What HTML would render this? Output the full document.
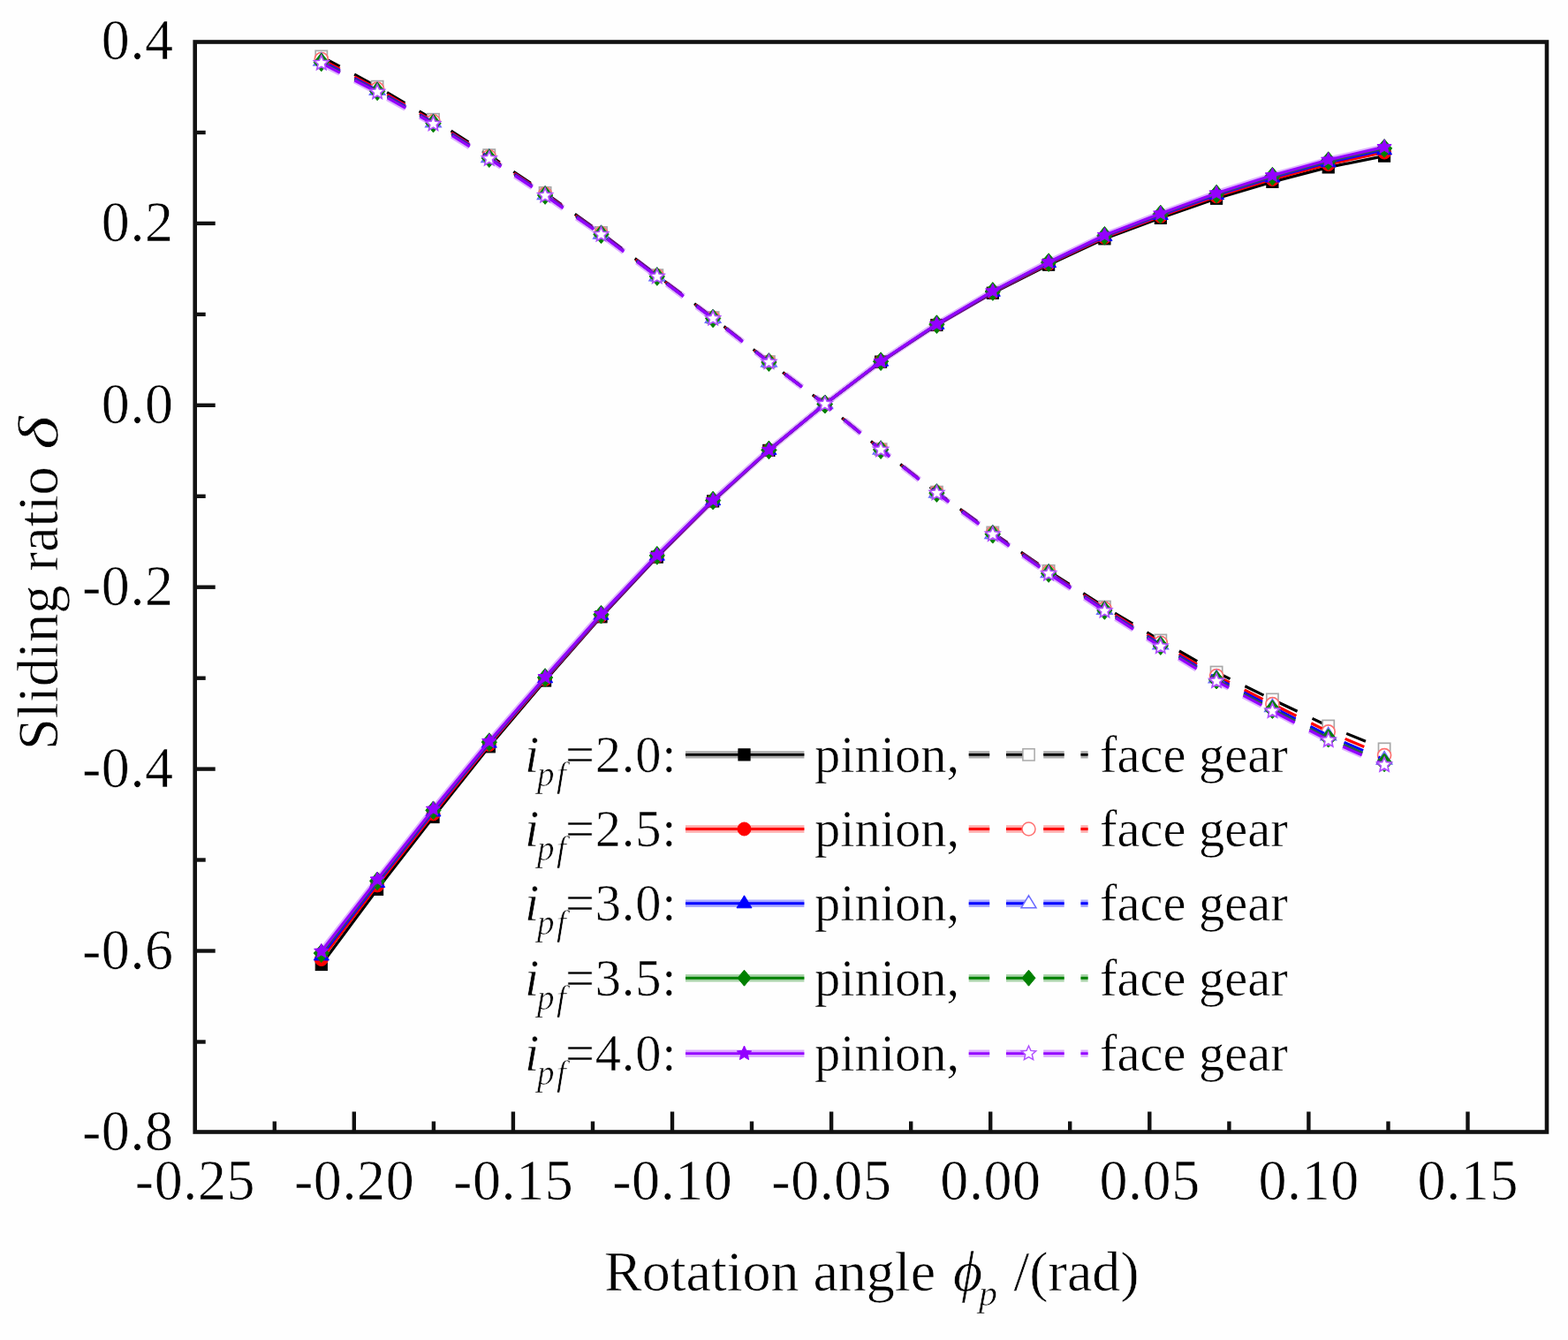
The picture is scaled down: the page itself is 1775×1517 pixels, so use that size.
<!DOCTYPE html>
<html><head><meta charset="utf-8"><title>Sliding ratio</title>
<style>html,body{margin:0;padding:0;background:#fefefe;} svg{display:block;}</style></head>
<body>
<svg width="1775" height="1517" viewBox="0 0 1775 1517">
<g>
<rect width="1775" height="1517" fill="#fefefe"/>
<polyline points="363.8,1092.0 427.1,1006.8 490.5,925.0 553.8,845.3 617.1,770.5 680.5,698.3 743.8,630.6 807.1,567.4 870.4,509.9 933.8,457.5 997.1,409.6 1060.4,368.0 1123.8,331.7 1187.1,299.7 1250.4,270.3 1313.8,246.8 1377.1,224.7 1440.4,205.9 1503.7,189.4 1567.1,176.6" fill="none" stroke="#000000" stroke-width="3.2" stroke-linejoin="round"/>
<polyline points="363.8,64.0 427.1,98.2 490.5,135.3 553.8,175.7 617.1,218.4 680.5,263.5 743.8,311.7 807.1,359.6 870.4,409.6 933.8,457.5 997.1,508.7 1060.4,557.2 1123.8,603.0 1187.1,646.4 1250.4,687.1 1313.8,725.0 1377.1,761.1 1440.4,791.9 1503.7,822.0 1567.1,847.9" fill="none" stroke="#000000" stroke-width="3.2" stroke-dasharray="23.5 18.75" stroke-dashoffset="-0.2"/>
<rect x="357.2" y="1085.4" width="13.2" height="13.2" fill="#000000" stroke="#000000" stroke-width="1"/>
<rect x="420.5" y="1000.2" width="13.2" height="13.2" fill="#000000" stroke="#000000" stroke-width="1"/>
<rect x="483.9" y="918.4" width="13.2" height="13.2" fill="#000000" stroke="#000000" stroke-width="1"/>
<rect x="547.2" y="838.7" width="13.2" height="13.2" fill="#000000" stroke="#000000" stroke-width="1"/>
<rect x="610.5" y="763.9" width="13.2" height="13.2" fill="#000000" stroke="#000000" stroke-width="1"/>
<rect x="673.9" y="691.7" width="13.2" height="13.2" fill="#000000" stroke="#000000" stroke-width="1"/>
<rect x="737.2" y="624.0" width="13.2" height="13.2" fill="#000000" stroke="#000000" stroke-width="1"/>
<rect x="800.5" y="560.8" width="13.2" height="13.2" fill="#000000" stroke="#000000" stroke-width="1"/>
<rect x="863.8" y="503.3" width="13.2" height="13.2" fill="#000000" stroke="#000000" stroke-width="1"/>
<rect x="927.2" y="450.9" width="13.2" height="13.2" fill="#000000" stroke="#000000" stroke-width="1"/>
<rect x="990.5" y="403.0" width="13.2" height="13.2" fill="#000000" stroke="#000000" stroke-width="1"/>
<rect x="1053.8" y="361.4" width="13.2" height="13.2" fill="#000000" stroke="#000000" stroke-width="1"/>
<rect x="1117.2" y="325.1" width="13.2" height="13.2" fill="#000000" stroke="#000000" stroke-width="1"/>
<rect x="1180.5" y="293.1" width="13.2" height="13.2" fill="#000000" stroke="#000000" stroke-width="1"/>
<rect x="1243.8" y="263.7" width="13.2" height="13.2" fill="#000000" stroke="#000000" stroke-width="1"/>
<rect x="1307.2" y="240.2" width="13.2" height="13.2" fill="#000000" stroke="#000000" stroke-width="1"/>
<rect x="1370.5" y="218.1" width="13.2" height="13.2" fill="#000000" stroke="#000000" stroke-width="1"/>
<rect x="1433.8" y="199.3" width="13.2" height="13.2" fill="#000000" stroke="#000000" stroke-width="1"/>
<rect x="1497.1" y="182.8" width="13.2" height="13.2" fill="#000000" stroke="#000000" stroke-width="1"/>
<rect x="1560.5" y="170.0" width="13.2" height="13.2" fill="#000000" stroke="#000000" stroke-width="1"/>
<rect x="357.2" y="57.4" width="13.2" height="13.2" fill="#ffffff" stroke="#a8a8a8" stroke-width="1.7"/>
<rect x="420.5" y="91.6" width="13.2" height="13.2" fill="#ffffff" stroke="#a8a8a8" stroke-width="1.7"/>
<rect x="483.9" y="128.7" width="13.2" height="13.2" fill="#ffffff" stroke="#a8a8a8" stroke-width="1.7"/>
<rect x="547.2" y="169.1" width="13.2" height="13.2" fill="#ffffff" stroke="#a8a8a8" stroke-width="1.7"/>
<rect x="610.5" y="211.8" width="13.2" height="13.2" fill="#ffffff" stroke="#a8a8a8" stroke-width="1.7"/>
<rect x="673.9" y="256.9" width="13.2" height="13.2" fill="#ffffff" stroke="#a8a8a8" stroke-width="1.7"/>
<rect x="737.2" y="305.1" width="13.2" height="13.2" fill="#ffffff" stroke="#a8a8a8" stroke-width="1.7"/>
<rect x="800.5" y="353.0" width="13.2" height="13.2" fill="#ffffff" stroke="#a8a8a8" stroke-width="1.7"/>
<rect x="863.8" y="403.0" width="13.2" height="13.2" fill="#ffffff" stroke="#a8a8a8" stroke-width="1.7"/>
<rect x="927.2" y="450.9" width="13.2" height="13.2" fill="#ffffff" stroke="#a8a8a8" stroke-width="1.7"/>
<rect x="990.5" y="502.1" width="13.2" height="13.2" fill="#ffffff" stroke="#a8a8a8" stroke-width="1.7"/>
<rect x="1053.8" y="550.6" width="13.2" height="13.2" fill="#ffffff" stroke="#a8a8a8" stroke-width="1.7"/>
<rect x="1117.2" y="596.4" width="13.2" height="13.2" fill="#ffffff" stroke="#a8a8a8" stroke-width="1.7"/>
<rect x="1180.5" y="639.8" width="13.2" height="13.2" fill="#ffffff" stroke="#a8a8a8" stroke-width="1.7"/>
<rect x="1243.8" y="680.5" width="13.2" height="13.2" fill="#ffffff" stroke="#a8a8a8" stroke-width="1.7"/>
<rect x="1307.2" y="718.4" width="13.2" height="13.2" fill="#ffffff" stroke="#a8a8a8" stroke-width="1.7"/>
<rect x="1370.5" y="754.5" width="13.2" height="13.2" fill="#ffffff" stroke="#a8a8a8" stroke-width="1.7"/>
<rect x="1433.8" y="785.3" width="13.2" height="13.2" fill="#ffffff" stroke="#a8a8a8" stroke-width="1.7"/>
<rect x="1497.1" y="815.4" width="13.2" height="13.2" fill="#ffffff" stroke="#a8a8a8" stroke-width="1.7"/>
<rect x="1560.5" y="841.3" width="13.2" height="13.2" fill="#ffffff" stroke="#a8a8a8" stroke-width="1.7"/>
<polyline points="363.8,1086.0 427.1,1002.4 490.5,921.4 553.8,842.9 617.1,768.9 680.5,697.1 743.8,629.8 807.1,567.0 870.4,509.7 933.8,457.5 997.1,409.4 1060.4,367.6 1123.8,330.9 1187.1,298.5 1250.4,268.7 1313.8,244.8 1377.1,222.3 1440.4,203.0 1503.7,186.0 1567.1,172.5" fill="none" stroke="#ff0000" stroke-width="3.2" stroke-linejoin="round"/>
<polyline points="363.8,67.0 427.1,100.6 490.5,137.3 553.8,177.3 617.1,219.6 680.5,264.3 743.8,312.3 807.1,360.0 870.4,409.8 933.8,457.5 997.1,508.9 1060.4,557.6 1123.8,603.8 1187.1,647.6 1250.4,688.9 1313.8,727.8 1377.1,765.1 1440.4,797.1 1503.7,828.4 1567.1,855.1" fill="none" stroke="#ff0000" stroke-width="3.2" stroke-dasharray="23.5 18.75" stroke-dashoffset="-0.2"/>
<circle cx="363.8" cy="1086.0" r="7.5" fill="#ff0000" stroke="#ff0000" stroke-width="1"/>
<circle cx="427.1" cy="1002.4" r="7.5" fill="#ff0000" stroke="#ff0000" stroke-width="1"/>
<circle cx="490.5" cy="921.4" r="7.5" fill="#ff0000" stroke="#ff0000" stroke-width="1"/>
<circle cx="553.8" cy="842.9" r="7.5" fill="#ff0000" stroke="#ff0000" stroke-width="1"/>
<circle cx="617.1" cy="768.9" r="7.5" fill="#ff0000" stroke="#ff0000" stroke-width="1"/>
<circle cx="680.5" cy="697.1" r="7.5" fill="#ff0000" stroke="#ff0000" stroke-width="1"/>
<circle cx="743.8" cy="629.8" r="7.5" fill="#ff0000" stroke="#ff0000" stroke-width="1"/>
<circle cx="807.1" cy="567.0" r="7.5" fill="#ff0000" stroke="#ff0000" stroke-width="1"/>
<circle cx="870.4" cy="509.7" r="7.5" fill="#ff0000" stroke="#ff0000" stroke-width="1"/>
<circle cx="933.8" cy="457.5" r="7.5" fill="#ff0000" stroke="#ff0000" stroke-width="1"/>
<circle cx="997.1" cy="409.4" r="7.5" fill="#ff0000" stroke="#ff0000" stroke-width="1"/>
<circle cx="1060.4" cy="367.6" r="7.5" fill="#ff0000" stroke="#ff0000" stroke-width="1"/>
<circle cx="1123.8" cy="330.9" r="7.5" fill="#ff0000" stroke="#ff0000" stroke-width="1"/>
<circle cx="1187.1" cy="298.5" r="7.5" fill="#ff0000" stroke="#ff0000" stroke-width="1"/>
<circle cx="1250.4" cy="268.7" r="7.5" fill="#ff0000" stroke="#ff0000" stroke-width="1"/>
<circle cx="1313.8" cy="244.8" r="7.5" fill="#ff0000" stroke="#ff0000" stroke-width="1"/>
<circle cx="1377.1" cy="222.3" r="7.5" fill="#ff0000" stroke="#ff0000" stroke-width="1"/>
<circle cx="1440.4" cy="203.0" r="7.5" fill="#ff0000" stroke="#ff0000" stroke-width="1"/>
<circle cx="1503.7" cy="186.0" r="7.5" fill="#ff0000" stroke="#ff0000" stroke-width="1"/>
<circle cx="1567.1" cy="172.5" r="7.5" fill="#ff0000" stroke="#ff0000" stroke-width="1"/>
<circle cx="363.8" cy="67.0" r="7.5" fill="#ffffff" stroke="#ff7070" stroke-width="1.7"/>
<circle cx="427.1" cy="100.6" r="7.5" fill="#ffffff" stroke="#ff7070" stroke-width="1.7"/>
<circle cx="490.5" cy="137.3" r="7.5" fill="#ffffff" stroke="#ff7070" stroke-width="1.7"/>
<circle cx="553.8" cy="177.3" r="7.5" fill="#ffffff" stroke="#ff7070" stroke-width="1.7"/>
<circle cx="617.1" cy="219.6" r="7.5" fill="#ffffff" stroke="#ff7070" stroke-width="1.7"/>
<circle cx="680.5" cy="264.3" r="7.5" fill="#ffffff" stroke="#ff7070" stroke-width="1.7"/>
<circle cx="743.8" cy="312.3" r="7.5" fill="#ffffff" stroke="#ff7070" stroke-width="1.7"/>
<circle cx="807.1" cy="360.0" r="7.5" fill="#ffffff" stroke="#ff7070" stroke-width="1.7"/>
<circle cx="870.4" cy="409.8" r="7.5" fill="#ffffff" stroke="#ff7070" stroke-width="1.7"/>
<circle cx="933.8" cy="457.5" r="7.5" fill="#ffffff" stroke="#ff7070" stroke-width="1.7"/>
<circle cx="997.1" cy="508.9" r="7.5" fill="#ffffff" stroke="#ff7070" stroke-width="1.7"/>
<circle cx="1060.4" cy="557.6" r="7.5" fill="#ffffff" stroke="#ff7070" stroke-width="1.7"/>
<circle cx="1123.8" cy="603.8" r="7.5" fill="#ffffff" stroke="#ff7070" stroke-width="1.7"/>
<circle cx="1187.1" cy="647.6" r="7.5" fill="#ffffff" stroke="#ff7070" stroke-width="1.7"/>
<circle cx="1250.4" cy="688.9" r="7.5" fill="#ffffff" stroke="#ff7070" stroke-width="1.7"/>
<circle cx="1313.8" cy="727.8" r="7.5" fill="#ffffff" stroke="#ff7070" stroke-width="1.7"/>
<circle cx="1377.1" cy="765.1" r="7.5" fill="#ffffff" stroke="#ff7070" stroke-width="1.7"/>
<circle cx="1440.4" cy="797.1" r="7.5" fill="#ffffff" stroke="#ff7070" stroke-width="1.7"/>
<circle cx="1503.7" cy="828.4" r="7.5" fill="#ffffff" stroke="#ff7070" stroke-width="1.7"/>
<circle cx="1567.1" cy="855.1" r="7.5" fill="#ffffff" stroke="#ff7070" stroke-width="1.7"/>
<polyline points="363.8,1082.0 427.1,999.5 490.5,919.0 553.8,841.3 617.1,767.8 680.5,696.3 743.8,629.3 807.1,566.7 870.4,509.6 933.8,457.5 997.1,409.3 1060.4,367.3 1123.8,330.4 1187.1,297.7 1250.4,267.6 1313.8,243.5 1377.1,220.7 1440.4,201.0 1503.7,183.8 1567.1,169.8" fill="none" stroke="#0000ff" stroke-width="3.2" stroke-linejoin="round"/>
<polyline points="363.8,69.0 427.1,102.2 490.5,138.6 553.8,178.4 617.1,220.4 680.5,264.8 743.8,312.7 807.1,360.3 870.4,409.9 933.8,457.5 997.1,509.0 1060.4,557.9 1123.8,604.3 1187.1,648.4 1250.4,690.1 1313.8,729.7 1377.1,767.8 1440.4,800.6 1503.7,832.7 1567.1,859.9" fill="none" stroke="#0000ff" stroke-width="3.2" stroke-dasharray="23.5 18.75" stroke-dashoffset="-0.2"/>
<polygon points="363.8,1073.0 372.4,1087.0 355.2,1087.0" fill="#0000ff" stroke="#0000ff" stroke-width="1"/>
<polygon points="427.1,990.5 435.7,1004.4 418.6,1004.4" fill="#0000ff" stroke="#0000ff" stroke-width="1"/>
<polygon points="490.5,910.0 499.0,924.0 481.9,924.0" fill="#0000ff" stroke="#0000ff" stroke-width="1"/>
<polygon points="553.8,832.3 562.3,846.2 545.2,846.2" fill="#0000ff" stroke="#0000ff" stroke-width="1"/>
<polygon points="617.1,758.8 625.7,772.8 608.6,772.8" fill="#0000ff" stroke="#0000ff" stroke-width="1"/>
<polygon points="680.5,687.3 689.0,701.2 671.9,701.2" fill="#0000ff" stroke="#0000ff" stroke-width="1"/>
<polygon points="743.8,620.3 752.3,634.2 735.2,634.2" fill="#0000ff" stroke="#0000ff" stroke-width="1"/>
<polygon points="807.1,557.7 815.7,571.7 798.6,571.7" fill="#0000ff" stroke="#0000ff" stroke-width="1"/>
<polygon points="870.4,500.6 879.0,514.5 861.9,514.5" fill="#0000ff" stroke="#0000ff" stroke-width="1"/>
<polygon points="933.8,448.5 942.3,462.4 925.2,462.4" fill="#0000ff" stroke="#0000ff" stroke-width="1"/>
<polygon points="997.1,400.3 1005.6,414.2 988.5,414.2" fill="#0000ff" stroke="#0000ff" stroke-width="1"/>
<polygon points="1060.4,358.3 1069.0,372.3 1051.9,372.3" fill="#0000ff" stroke="#0000ff" stroke-width="1"/>
<polygon points="1123.8,321.4 1132.3,335.3 1115.2,335.3" fill="#0000ff" stroke="#0000ff" stroke-width="1"/>
<polygon points="1187.1,288.7 1195.6,302.6 1178.5,302.6" fill="#0000ff" stroke="#0000ff" stroke-width="1"/>
<polygon points="1250.4,258.6 1259.0,272.6 1241.9,272.6" fill="#0000ff" stroke="#0000ff" stroke-width="1"/>
<polygon points="1313.8,234.5 1322.3,248.4 1305.2,248.4" fill="#0000ff" stroke="#0000ff" stroke-width="1"/>
<polygon points="1377.1,211.7 1385.6,225.6 1368.5,225.6" fill="#0000ff" stroke="#0000ff" stroke-width="1"/>
<polygon points="1440.4,192.0 1449.0,206.0 1431.9,206.0" fill="#0000ff" stroke="#0000ff" stroke-width="1"/>
<polygon points="1503.7,174.8 1512.3,188.8 1495.2,188.8" fill="#0000ff" stroke="#0000ff" stroke-width="1"/>
<polygon points="1567.1,160.8 1575.6,174.8 1558.5,174.8" fill="#0000ff" stroke="#0000ff" stroke-width="1"/>
<polygon points="363.8,60.0 372.4,74.0 355.2,74.0" fill="#ffffff" stroke="#6a6aff" stroke-width="1.7"/>
<polygon points="427.1,93.2 435.7,107.2 418.6,107.2" fill="#ffffff" stroke="#6a6aff" stroke-width="1.7"/>
<polygon points="490.5,129.6 499.0,143.6 481.9,143.6" fill="#ffffff" stroke="#6a6aff" stroke-width="1.7"/>
<polygon points="553.8,169.4 562.3,183.3 545.2,183.3" fill="#ffffff" stroke="#6a6aff" stroke-width="1.7"/>
<polygon points="617.1,211.4 625.7,225.3 608.6,225.3" fill="#ffffff" stroke="#6a6aff" stroke-width="1.7"/>
<polygon points="680.5,255.8 689.0,269.8 671.9,269.8" fill="#ffffff" stroke="#6a6aff" stroke-width="1.7"/>
<polygon points="743.8,303.7 752.3,317.6 735.2,317.6" fill="#ffffff" stroke="#6a6aff" stroke-width="1.7"/>
<polygon points="807.1,351.3 815.7,365.2 798.6,365.2" fill="#ffffff" stroke="#6a6aff" stroke-width="1.7"/>
<polygon points="870.4,400.9 879.0,414.9 861.9,414.9" fill="#ffffff" stroke="#6a6aff" stroke-width="1.7"/>
<polygon points="933.8,448.5 942.3,462.4 925.2,462.4" fill="#ffffff" stroke="#6a6aff" stroke-width="1.7"/>
<polygon points="997.1,500.0 1005.6,514.0 988.5,514.0" fill="#ffffff" stroke="#6a6aff" stroke-width="1.7"/>
<polygon points="1060.4,548.9 1069.0,562.8 1051.9,562.8" fill="#ffffff" stroke="#6a6aff" stroke-width="1.7"/>
<polygon points="1123.8,595.3 1132.3,609.3 1115.2,609.3" fill="#ffffff" stroke="#6a6aff" stroke-width="1.7"/>
<polygon points="1187.1,639.4 1195.6,653.4 1178.5,653.4" fill="#ffffff" stroke="#6a6aff" stroke-width="1.7"/>
<polygon points="1250.4,681.1 1259.0,695.1 1241.9,695.1" fill="#ffffff" stroke="#6a6aff" stroke-width="1.7"/>
<polygon points="1313.8,720.7 1322.3,734.6 1305.2,734.6" fill="#ffffff" stroke="#6a6aff" stroke-width="1.7"/>
<polygon points="1377.1,758.8 1385.6,772.7 1368.5,772.7" fill="#ffffff" stroke="#6a6aff" stroke-width="1.7"/>
<polygon points="1440.4,791.6 1449.0,805.5 1431.9,805.5" fill="#ffffff" stroke="#6a6aff" stroke-width="1.7"/>
<polygon points="1503.7,823.7 1512.3,837.6 1495.2,837.6" fill="#ffffff" stroke="#6a6aff" stroke-width="1.7"/>
<polygon points="1567.1,850.9 1575.6,864.9 1558.5,864.9" fill="#ffffff" stroke="#6a6aff" stroke-width="1.7"/>
<polyline points="363.8,1079.1 427.1,997.4 490.5,917.3 553.8,840.2 617.1,767.1 680.5,695.7 743.8,628.9 807.1,566.5 870.4,509.5 933.8,457.5 997.1,409.2 1060.4,367.1 1123.8,330.0 1187.1,297.1 1250.4,266.9 1313.8,242.5 1377.1,219.6 1440.4,199.6 1503.7,182.2 1567.1,167.9" fill="none" stroke="#008000" stroke-width="3.2" stroke-linejoin="round"/>
<polyline points="363.8,70.4 427.1,103.3 490.5,139.6 553.8,179.1 617.1,221.0 680.5,265.2 743.8,313.0 807.1,360.5 870.4,410.0 933.8,457.5 997.1,509.1 1060.4,558.1 1123.8,604.7 1187.1,649.0 1250.4,691.0 1313.8,731.0 1377.1,769.7 1440.4,803.0 1503.7,835.7 1567.1,863.3" fill="none" stroke="#008000" stroke-width="3.2" stroke-dasharray="23.5 18.75" stroke-dashoffset="-0.2"/>
<polygon points="363.8,1068.8 372.4,1079.1 363.8,1089.5 355.2,1079.1" fill="#008000" stroke="#008000" stroke-width="1"/>
<polygon points="427.1,987.0 435.8,997.4 427.1,1007.7 418.5,997.4" fill="#008000" stroke="#008000" stroke-width="1"/>
<polygon points="490.5,906.9 499.1,917.3 490.5,927.6 481.8,917.3" fill="#008000" stroke="#008000" stroke-width="1"/>
<polygon points="553.8,829.8 562.4,840.2 553.8,850.5 545.2,840.2" fill="#008000" stroke="#008000" stroke-width="1"/>
<polygon points="617.1,756.7 625.7,767.1 617.1,777.4 608.5,767.1" fill="#008000" stroke="#008000" stroke-width="1"/>
<polygon points="680.5,685.4 689.1,695.7 680.5,706.1 671.8,695.7" fill="#008000" stroke="#008000" stroke-width="1"/>
<polygon points="743.8,618.5 752.4,628.9 743.8,639.2 735.2,628.9" fill="#008000" stroke="#008000" stroke-width="1"/>
<polygon points="807.1,556.2 815.7,566.5 807.1,576.9 798.5,566.5" fill="#008000" stroke="#008000" stroke-width="1"/>
<polygon points="870.4,499.1 879.1,509.5 870.4,519.8 861.8,509.5" fill="#008000" stroke="#008000" stroke-width="1"/>
<polygon points="933.8,447.1 942.4,457.5 933.8,467.9 925.1,457.5" fill="#008000" stroke="#008000" stroke-width="1"/>
<polygon points="997.1,398.8 1005.7,409.2 997.1,419.5 988.5,409.2" fill="#008000" stroke="#008000" stroke-width="1"/>
<polygon points="1060.4,356.8 1069.1,367.1 1060.4,377.5 1051.8,367.1" fill="#008000" stroke="#008000" stroke-width="1"/>
<polygon points="1123.8,319.6 1132.4,330.0 1123.8,340.3 1115.1,330.0" fill="#008000" stroke="#008000" stroke-width="1"/>
<polygon points="1187.1,286.8 1195.7,297.1 1187.1,307.5 1178.5,297.1" fill="#008000" stroke="#008000" stroke-width="1"/>
<polygon points="1250.4,256.5 1259.0,266.9 1250.4,277.2 1241.8,266.9" fill="#008000" stroke="#008000" stroke-width="1"/>
<polygon points="1313.8,232.2 1322.4,242.5 1313.8,252.9 1305.1,242.5" fill="#008000" stroke="#008000" stroke-width="1"/>
<polygon points="1377.1,209.2 1385.7,219.6 1377.1,229.9 1368.5,219.6" fill="#008000" stroke="#008000" stroke-width="1"/>
<polygon points="1440.4,189.3 1449.0,199.6 1440.4,210.0 1431.8,199.6" fill="#008000" stroke="#008000" stroke-width="1"/>
<polygon points="1503.7,171.8 1512.4,182.2 1503.7,192.5 1495.1,182.2" fill="#008000" stroke="#008000" stroke-width="1"/>
<polygon points="1567.1,157.5 1575.7,167.9 1567.1,178.2 1558.4,167.9" fill="#008000" stroke="#008000" stroke-width="1"/>
<polygon points="363.8,60.1 372.4,70.4 363.8,80.8 355.2,70.4" fill="#008000" stroke="#008000" stroke-width="1"/>
<polygon points="427.1,93.0 435.8,103.3 427.1,113.7 418.5,103.3" fill="#008000" stroke="#008000" stroke-width="1"/>
<polygon points="490.5,129.2 499.1,139.6 490.5,149.9 481.8,139.6" fill="#008000" stroke="#008000" stroke-width="1"/>
<polygon points="553.8,168.8 562.4,179.1 553.8,189.5 545.2,179.1" fill="#008000" stroke="#008000" stroke-width="1"/>
<polygon points="617.1,210.6 625.7,221.0 617.1,231.3 608.5,221.0" fill="#008000" stroke="#008000" stroke-width="1"/>
<polygon points="680.5,254.9 689.1,265.2 680.5,275.6 671.8,265.2" fill="#008000" stroke="#008000" stroke-width="1"/>
<polygon points="743.8,302.6 752.4,313.0 743.8,323.3 735.2,313.0" fill="#008000" stroke="#008000" stroke-width="1"/>
<polygon points="807.1,350.1 815.7,360.5 807.1,370.8 798.5,360.5" fill="#008000" stroke="#008000" stroke-width="1"/>
<polygon points="870.4,399.7 879.1,410.0 870.4,420.4 861.8,410.0" fill="#008000" stroke="#008000" stroke-width="1"/>
<polygon points="933.8,447.1 942.4,457.5 933.8,467.9 925.1,457.5" fill="#008000" stroke="#008000" stroke-width="1"/>
<polygon points="997.1,498.8 1005.7,509.1 997.1,519.5 988.5,509.1" fill="#008000" stroke="#008000" stroke-width="1"/>
<polygon points="1060.4,547.7 1069.1,558.1 1060.4,568.4 1051.8,558.1" fill="#008000" stroke="#008000" stroke-width="1"/>
<polygon points="1123.8,594.4 1132.4,604.7 1123.8,615.1 1115.1,604.7" fill="#008000" stroke="#008000" stroke-width="1"/>
<polygon points="1187.1,638.6 1195.7,649.0 1187.1,659.3 1178.5,649.0" fill="#008000" stroke="#008000" stroke-width="1"/>
<polygon points="1250.4,680.6 1259.0,691.0 1250.4,701.3 1241.8,691.0" fill="#008000" stroke="#008000" stroke-width="1"/>
<polygon points="1313.8,720.6 1322.4,731.0 1313.8,741.4 1305.1,731.0" fill="#008000" stroke="#008000" stroke-width="1"/>
<polygon points="1377.1,759.3 1385.7,769.7 1377.1,780.0 1368.5,769.7" fill="#008000" stroke="#008000" stroke-width="1"/>
<polygon points="1440.4,792.7 1449.0,803.0 1440.4,813.4 1431.8,803.0" fill="#008000" stroke="#008000" stroke-width="1"/>
<polygon points="1503.7,825.4 1512.4,835.7 1503.7,846.1 1495.1,835.7" fill="#008000" stroke="#008000" stroke-width="1"/>
<polygon points="1567.1,853.0 1575.7,863.3 1567.1,873.7 1558.4,863.3" fill="#008000" stroke="#008000" stroke-width="1"/>
<polyline points="363.8,1077.0 427.1,995.8 490.5,916.0 553.8,839.3 617.1,766.5 680.5,695.3 743.8,628.6 807.1,566.4 870.4,509.4 933.8,457.5 997.1,409.1 1060.4,367.0 1123.8,329.7 1187.1,296.7 1250.4,266.3 1313.8,241.8 1377.1,218.7 1440.4,198.6 1503.7,181.0 1567.1,166.4" fill="none" stroke="#9400ff" stroke-opacity="0.3" stroke-width="7" stroke-linejoin="round"/>
<polyline points="363.8,1077.0 427.1,995.8 490.5,916.0 553.8,839.3 617.1,766.5 680.5,695.3 743.8,628.6 807.1,566.4 870.4,509.4 933.8,457.5 997.1,409.1 1060.4,367.0 1123.8,329.7 1187.1,296.7 1250.4,266.3 1313.8,241.8 1377.1,218.7 1440.4,198.6 1503.7,181.0 1567.1,166.4" fill="none" stroke="#9400ff" stroke-width="3.2" stroke-linejoin="round"/>
<polyline points="363.8,71.5 427.1,104.2 490.5,140.3 553.8,179.7 617.1,221.4 680.5,265.5 743.8,313.2 807.1,360.6 870.4,410.1 933.8,457.5 997.1,509.2 1060.4,558.2 1123.8,605.0 1187.1,649.4 1250.4,691.6 1313.8,732.0 1377.1,771.1 1440.4,804.9 1503.7,838.0 1567.1,865.9" fill="none" stroke="#9400ff" stroke-opacity="0.3" stroke-width="7" stroke-dasharray="23.5 18.75" stroke-dashoffset="-0.2"/>
<polyline points="363.8,71.5 427.1,104.2 490.5,140.3 553.8,179.7 617.1,221.4 680.5,265.5 743.8,313.2 807.1,360.6 870.4,410.1 933.8,457.5 997.1,509.2 1060.4,558.2 1123.8,605.0 1187.1,649.4 1250.4,691.6 1313.8,732.0 1377.1,771.1 1440.4,804.9 1503.7,838.0 1567.1,865.9" fill="none" stroke="#9400ff" stroke-width="3.2" stroke-dasharray="23.5 18.75" stroke-dashoffset="-0.2"/>
<polygon points="363.8,1068.4 366.2,1073.8 372.0,1074.3 367.6,1078.2 368.9,1084.0 363.8,1081.0 358.7,1084.0 360.0,1078.2 355.6,1074.3 361.4,1073.8" fill="#9400ff" stroke="#9400ff" stroke-width="1"/>
<polygon points="427.1,987.2 429.5,992.6 435.3,993.1 430.9,997.0 432.2,1002.8 427.1,999.8 422.1,1002.8 423.3,997.0 419.0,993.1 424.8,992.6" fill="#9400ff" stroke="#9400ff" stroke-width="1"/>
<polygon points="490.5,907.4 492.8,912.8 498.6,913.3 494.3,917.2 495.5,923.0 490.5,920.0 485.4,923.0 486.7,917.2 482.3,913.3 488.1,912.8" fill="#9400ff" stroke="#9400ff" stroke-width="1"/>
<polygon points="553.8,830.7 556.1,836.1 562.0,836.6 557.6,840.5 558.8,846.3 553.8,843.3 548.7,846.3 550.0,840.5 545.6,836.6 551.4,836.1" fill="#9400ff" stroke="#9400ff" stroke-width="1"/>
<polygon points="617.1,757.9 619.5,763.3 625.3,763.8 620.9,767.7 622.2,773.5 617.1,770.5 612.1,773.5 613.3,767.7 608.9,763.8 614.8,763.3" fill="#9400ff" stroke="#9400ff" stroke-width="1"/>
<polygon points="680.5,686.7 682.8,692.1 688.6,692.6 684.3,696.5 685.5,702.3 680.5,699.3 675.4,702.3 676.6,696.5 672.3,692.6 678.1,692.1" fill="#9400ff" stroke="#9400ff" stroke-width="1"/>
<polygon points="743.8,620.0 746.1,625.4 752.0,625.9 747.6,629.8 748.8,635.6 743.8,632.6 738.7,635.6 740.0,629.8 735.6,625.9 741.4,625.4" fill="#9400ff" stroke="#9400ff" stroke-width="1"/>
<polygon points="807.1,557.8 809.5,563.2 815.3,563.7 810.9,567.6 812.2,573.4 807.1,570.4 802.1,573.4 803.3,567.6 798.9,563.7 804.8,563.2" fill="#9400ff" stroke="#9400ff" stroke-width="1"/>
<polygon points="870.4,500.8 872.8,506.2 878.6,506.7 874.2,510.6 875.5,516.4 870.4,513.4 865.4,516.4 866.6,510.6 862.3,506.7 868.1,506.2" fill="#9400ff" stroke="#9400ff" stroke-width="1"/>
<polygon points="933.8,448.9 936.1,454.3 941.9,454.8 937.6,458.7 938.8,464.5 933.8,461.5 928.7,464.5 930.0,458.7 925.6,454.8 931.4,454.3" fill="#9400ff" stroke="#9400ff" stroke-width="1"/>
<polygon points="997.1,400.5 999.5,405.9 1005.3,406.4 1000.9,410.3 1002.2,416.1 997.1,413.1 992.0,416.1 993.3,410.3 988.9,406.4 994.7,405.9" fill="#9400ff" stroke="#9400ff" stroke-width="1"/>
<polygon points="1060.4,358.4 1062.8,363.8 1068.6,364.3 1064.2,368.2 1065.5,374.0 1060.4,371.0 1055.4,374.0 1056.6,368.2 1052.3,364.3 1058.1,363.8" fill="#9400ff" stroke="#9400ff" stroke-width="1"/>
<polygon points="1123.8,321.1 1126.1,326.5 1131.9,327.0 1127.6,330.9 1128.8,336.7 1123.8,333.7 1118.7,336.7 1120.0,330.9 1115.6,327.0 1121.4,326.5" fill="#9400ff" stroke="#9400ff" stroke-width="1"/>
<polygon points="1187.1,288.1 1189.4,293.5 1195.3,294.0 1190.9,297.9 1192.1,303.7 1187.1,300.7 1182.0,303.7 1183.3,297.9 1178.9,294.0 1184.7,293.5" fill="#9400ff" stroke="#9400ff" stroke-width="1"/>
<polygon points="1250.4,257.7 1252.8,263.1 1258.6,263.6 1254.2,267.5 1255.5,273.3 1250.4,270.3 1245.4,273.3 1246.6,267.5 1242.2,263.6 1248.1,263.1" fill="#9400ff" stroke="#9400ff" stroke-width="1"/>
<polygon points="1313.8,233.2 1316.1,238.6 1321.9,239.1 1317.6,243.0 1318.8,248.8 1313.8,245.8 1308.7,248.8 1309.9,243.0 1305.6,239.1 1311.4,238.6" fill="#9400ff" stroke="#9400ff" stroke-width="1"/>
<polygon points="1377.1,210.1 1379.4,215.5 1385.3,216.0 1380.9,219.9 1382.1,225.7 1377.1,222.7 1372.0,225.7 1373.3,219.9 1368.9,216.0 1374.7,215.5" fill="#9400ff" stroke="#9400ff" stroke-width="1"/>
<polygon points="1440.4,190.0 1442.8,195.4 1448.6,195.9 1444.2,199.8 1445.5,205.6 1440.4,202.6 1435.4,205.6 1436.6,199.8 1432.2,195.9 1438.1,195.4" fill="#9400ff" stroke="#9400ff" stroke-width="1"/>
<polygon points="1503.7,172.4 1506.1,177.8 1511.9,178.3 1507.5,182.2 1508.8,188.0 1503.7,185.0 1498.7,188.0 1499.9,182.2 1495.6,178.3 1501.4,177.8" fill="#9400ff" stroke="#9400ff" stroke-width="1"/>
<polygon points="1567.1,157.8 1569.4,163.2 1575.2,163.7 1570.9,167.6 1572.1,173.4 1567.1,170.4 1562.0,173.4 1563.3,167.6 1558.9,163.7 1564.7,163.2" fill="#9400ff" stroke="#9400ff" stroke-width="1"/>
<polygon points="363.8,62.9 366.2,68.3 372.0,68.8 367.6,72.7 368.9,78.5 363.8,75.5 358.7,78.5 360.0,72.7 355.6,68.8 361.4,68.3" fill="#ffffff" stroke="#b050ff" stroke-width="1.7"/>
<polygon points="427.1,95.6 429.5,101.0 435.3,101.5 430.9,105.4 432.2,111.2 427.1,108.2 422.1,111.2 423.3,105.4 419.0,101.5 424.8,101.0" fill="#ffffff" stroke="#b050ff" stroke-width="1.7"/>
<polygon points="490.5,131.7 492.8,137.1 498.6,137.6 494.3,141.5 495.5,147.3 490.5,144.3 485.4,147.3 486.7,141.5 482.3,137.6 488.1,137.1" fill="#ffffff" stroke="#b050ff" stroke-width="1.7"/>
<polygon points="553.8,171.1 556.1,176.5 562.0,177.0 557.6,180.9 558.8,186.7 553.8,183.7 548.7,186.7 550.0,180.9 545.6,177.0 551.4,176.5" fill="#ffffff" stroke="#b050ff" stroke-width="1.7"/>
<polygon points="617.1,212.8 619.5,218.2 625.3,218.7 620.9,222.6 622.2,228.4 617.1,225.4 612.1,228.4 613.3,222.6 608.9,218.7 614.8,218.2" fill="#ffffff" stroke="#b050ff" stroke-width="1.7"/>
<polygon points="680.5,256.9 682.8,262.3 688.6,262.8 684.3,266.7 685.5,272.5 680.5,269.5 675.4,272.5 676.6,266.7 672.3,262.8 678.1,262.3" fill="#ffffff" stroke="#b050ff" stroke-width="1.7"/>
<polygon points="743.8,304.6 746.1,310.0 752.0,310.5 747.6,314.4 748.8,320.2 743.8,317.2 738.7,320.2 740.0,314.4 735.6,310.5 741.4,310.0" fill="#ffffff" stroke="#b050ff" stroke-width="1.7"/>
<polygon points="807.1,352.0 809.5,357.4 815.3,357.9 810.9,361.8 812.2,367.6 807.1,364.6 802.1,367.6 803.3,361.8 798.9,357.9 804.8,357.4" fill="#ffffff" stroke="#b050ff" stroke-width="1.7"/>
<polygon points="870.4,401.5 872.8,406.9 878.6,407.4 874.2,411.3 875.5,417.1 870.4,414.1 865.4,417.1 866.6,411.3 862.3,407.4 868.1,406.9" fill="#ffffff" stroke="#b050ff" stroke-width="1.7"/>
<polygon points="933.8,448.9 936.1,454.3 941.9,454.8 937.6,458.7 938.8,464.5 933.8,461.5 928.7,464.5 930.0,458.7 925.6,454.8 931.4,454.3" fill="#ffffff" stroke="#b050ff" stroke-width="1.7"/>
<polygon points="997.1,500.6 999.5,506.0 1005.3,506.5 1000.9,510.4 1002.2,516.2 997.1,513.2 992.0,516.2 993.3,510.4 988.9,506.5 994.7,506.0" fill="#ffffff" stroke="#b050ff" stroke-width="1.7"/>
<polygon points="1060.4,549.6 1062.8,555.0 1068.6,555.5 1064.2,559.4 1065.5,565.2 1060.4,562.2 1055.4,565.2 1056.6,559.4 1052.3,555.5 1058.1,555.0" fill="#ffffff" stroke="#b050ff" stroke-width="1.7"/>
<polygon points="1123.8,596.4 1126.1,601.8 1131.9,602.3 1127.6,606.2 1128.8,612.0 1123.8,609.0 1118.7,612.0 1120.0,606.2 1115.6,602.3 1121.4,601.8" fill="#ffffff" stroke="#b050ff" stroke-width="1.7"/>
<polygon points="1187.1,640.8 1189.4,646.2 1195.3,646.7 1190.9,650.6 1192.1,656.4 1187.1,653.4 1182.0,656.4 1183.3,650.6 1178.9,646.7 1184.7,646.2" fill="#ffffff" stroke="#b050ff" stroke-width="1.7"/>
<polygon points="1250.4,683.0 1252.8,688.4 1258.6,688.9 1254.2,692.8 1255.5,698.6 1250.4,695.6 1245.4,698.6 1246.6,692.8 1242.2,688.9 1248.1,688.4" fill="#ffffff" stroke="#b050ff" stroke-width="1.7"/>
<polygon points="1313.8,723.4 1316.1,728.8 1321.9,729.3 1317.6,733.2 1318.8,739.0 1313.8,736.0 1308.7,739.0 1309.9,733.2 1305.6,729.3 1311.4,728.8" fill="#ffffff" stroke="#b050ff" stroke-width="1.7"/>
<polygon points="1377.1,762.5 1379.4,767.9 1385.3,768.4 1380.9,772.3 1382.1,778.1 1377.1,775.1 1372.0,778.1 1373.3,772.3 1368.9,768.4 1374.7,767.9" fill="#ffffff" stroke="#b050ff" stroke-width="1.7"/>
<polygon points="1440.4,796.3 1442.8,801.7 1448.6,802.2 1444.2,806.1 1445.5,811.9 1440.4,808.9 1435.4,811.9 1436.6,806.1 1432.2,802.2 1438.1,801.7" fill="#ffffff" stroke="#b050ff" stroke-width="1.7"/>
<polygon points="1503.7,829.4 1506.1,834.8 1511.9,835.3 1507.5,839.2 1508.8,845.0 1503.7,842.0 1498.7,845.0 1499.9,839.2 1495.6,835.3 1501.4,834.8" fill="#ffffff" stroke="#b050ff" stroke-width="1.7"/>
<polygon points="1567.1,857.3 1569.4,862.7 1575.2,863.2 1570.9,867.1 1572.1,872.9 1567.1,869.9 1562.0,872.9 1563.3,867.1 1558.9,863.2 1564.7,862.7" fill="#ffffff" stroke="#b050ff" stroke-width="1.7"/>
<rect x="220.7" y="47.5" width="1530.3" height="1234.0" fill="none" stroke="#111" stroke-width="4.6"/>
<line x1="400.8" y1="1281.5" x2="400.8" y2="1258.5" stroke="#111" stroke-width="4.4"/>
<line x1="580.9" y1="1281.5" x2="580.9" y2="1258.5" stroke="#111" stroke-width="4.4"/>
<line x1="761.0" y1="1281.5" x2="761.0" y2="1258.5" stroke="#111" stroke-width="4.4"/>
<line x1="941.1" y1="1281.5" x2="941.1" y2="1258.5" stroke="#111" stroke-width="4.4"/>
<line x1="1121.2" y1="1281.5" x2="1121.2" y2="1258.5" stroke="#111" stroke-width="4.4"/>
<line x1="1301.3" y1="1281.5" x2="1301.3" y2="1258.5" stroke="#111" stroke-width="4.4"/>
<line x1="1481.4" y1="1281.5" x2="1481.4" y2="1258.5" stroke="#111" stroke-width="4.4"/>
<line x1="1661.5" y1="1281.5" x2="1661.5" y2="1258.5" stroke="#111" stroke-width="4.4"/>
<line x1="310.8" y1="1281.5" x2="310.8" y2="1269.5" stroke="#111" stroke-width="4.4"/>
<line x1="490.9" y1="1281.5" x2="490.9" y2="1269.5" stroke="#111" stroke-width="4.4"/>
<line x1="671.0" y1="1281.5" x2="671.0" y2="1269.5" stroke="#111" stroke-width="4.4"/>
<line x1="851.0" y1="1281.5" x2="851.0" y2="1269.5" stroke="#111" stroke-width="4.4"/>
<line x1="1031.2" y1="1281.5" x2="1031.2" y2="1269.5" stroke="#111" stroke-width="4.4"/>
<line x1="1211.2" y1="1281.5" x2="1211.2" y2="1269.5" stroke="#111" stroke-width="4.4"/>
<line x1="1391.4" y1="1281.5" x2="1391.4" y2="1269.5" stroke="#111" stroke-width="4.4"/>
<line x1="1571.5" y1="1281.5" x2="1571.5" y2="1269.5" stroke="#111" stroke-width="4.4"/>
<line x1="220.7" y1="252.9" x2="243.7" y2="252.9" stroke="#111" stroke-width="4.4"/>
<line x1="220.7" y1="458.8" x2="243.7" y2="458.8" stroke="#111" stroke-width="4.4"/>
<line x1="220.7" y1="664.7" x2="243.7" y2="664.7" stroke="#111" stroke-width="4.4"/>
<line x1="220.7" y1="870.6" x2="243.7" y2="870.6" stroke="#111" stroke-width="4.4"/>
<line x1="220.7" y1="1076.5" x2="243.7" y2="1076.5" stroke="#111" stroke-width="4.4"/>
<line x1="220.7" y1="150.0" x2="232.7" y2="150.0" stroke="#111" stroke-width="4.4"/>
<line x1="220.7" y1="355.9" x2="232.7" y2="355.9" stroke="#111" stroke-width="4.4"/>
<line x1="220.7" y1="561.8" x2="232.7" y2="561.8" stroke="#111" stroke-width="4.4"/>
<line x1="220.7" y1="767.7" x2="232.7" y2="767.7" stroke="#111" stroke-width="4.4"/>
<line x1="220.7" y1="973.5" x2="232.7" y2="973.5" stroke="#111" stroke-width="4.4"/>
<line x1="220.7" y1="1179.5" x2="232.7" y2="1179.5" stroke="#111" stroke-width="4.4"/>
<text transform="translate(221.0,1357.8) scale(1,1.03)" font-family="Liberation Serif, Times New Roman, serif" stroke="#fefefe" stroke-width="0.6" font-size="64" letter-spacing="0.6" text-anchor="middle">-0.25</text>
<text transform="translate(401.1,1357.8) scale(1,1.03)" font-family="Liberation Serif, Times New Roman, serif" stroke="#fefefe" stroke-width="0.6" font-size="64" letter-spacing="0.6" text-anchor="middle">-0.20</text>
<text transform="translate(581.2,1357.8) scale(1,1.03)" font-family="Liberation Serif, Times New Roman, serif" stroke="#fefefe" stroke-width="0.6" font-size="64" letter-spacing="0.6" text-anchor="middle">-0.15</text>
<text transform="translate(761.3,1357.8) scale(1,1.03)" font-family="Liberation Serif, Times New Roman, serif" stroke="#fefefe" stroke-width="0.6" font-size="64" letter-spacing="0.6" text-anchor="middle">-0.10</text>
<text transform="translate(941.4,1357.8) scale(1,1.03)" font-family="Liberation Serif, Times New Roman, serif" stroke="#fefefe" stroke-width="0.6" font-size="64" letter-spacing="0.6" text-anchor="middle">-0.05</text>
<text transform="translate(1121.5,1357.8) scale(1,1.03)" font-family="Liberation Serif, Times New Roman, serif" stroke="#fefefe" stroke-width="0.6" font-size="64" letter-spacing="0.6" text-anchor="middle">0.00</text>
<text transform="translate(1301.6,1357.8) scale(1,1.03)" font-family="Liberation Serif, Times New Roman, serif" stroke="#fefefe" stroke-width="0.6" font-size="64" letter-spacing="0.6" text-anchor="middle">0.05</text>
<text transform="translate(1481.7,1357.8) scale(1,1.03)" font-family="Liberation Serif, Times New Roman, serif" stroke="#fefefe" stroke-width="0.6" font-size="64" letter-spacing="0.6" text-anchor="middle">0.10</text>
<text transform="translate(1661.8,1357.8) scale(1,1.03)" font-family="Liberation Serif, Times New Roman, serif" stroke="#fefefe" stroke-width="0.6" font-size="64" letter-spacing="0.6" text-anchor="middle">0.15</text>
<text transform="translate(196.6,67.0) scale(1,1.03)" font-family="Liberation Serif, Times New Roman, serif" stroke="#fefefe" stroke-width="0.6" font-size="64" letter-spacing="0.6" text-anchor="end">0.4</text>
<text transform="translate(196.6,272.9) scale(1,1.03)" font-family="Liberation Serif, Times New Roman, serif" stroke="#fefefe" stroke-width="0.6" font-size="64" letter-spacing="0.6" text-anchor="end">0.2</text>
<text transform="translate(196.6,478.8) scale(1,1.03)" font-family="Liberation Serif, Times New Roman, serif" stroke="#fefefe" stroke-width="0.6" font-size="64" letter-spacing="0.6" text-anchor="end">0.0</text>
<text transform="translate(196.6,684.7) scale(1,1.03)" font-family="Liberation Serif, Times New Roman, serif" stroke="#fefefe" stroke-width="0.6" font-size="64" letter-spacing="0.6" text-anchor="end">-0.2</text>
<text transform="translate(196.6,890.6) scale(1,1.03)" font-family="Liberation Serif, Times New Roman, serif" stroke="#fefefe" stroke-width="0.6" font-size="64" letter-spacing="0.6" text-anchor="end">-0.4</text>
<text transform="translate(196.6,1096.5) scale(1,1.03)" font-family="Liberation Serif, Times New Roman, serif" stroke="#fefefe" stroke-width="0.6" font-size="64" letter-spacing="0.6" text-anchor="end">-0.6</text>
<text transform="translate(196.6,1302.4) scale(1,1.03)" font-family="Liberation Serif, Times New Roman, serif" stroke="#fefefe" stroke-width="0.6" font-size="64" letter-spacing="0.6" text-anchor="end">-0.8</text>
<text x="684" y="1461" font-family="Liberation Serif, Times New Roman, serif" stroke="#fefefe" stroke-width="0.6" font-size="64">Rotation angle</text>
<text x="1079" y="1461" font-family="Liberation Serif, Times New Roman, serif" stroke="#fefefe" stroke-width="0.6" font-size="64" font-style="italic">ϕ</text>
<text x="1108" y="1478" font-family="Liberation Serif, Times New Roman, serif" stroke="#fefefe" stroke-width="0.6" font-size="42" font-style="italic">p</text>
<text x="1147.5" y="1461" font-family="Liberation Serif, Times New Roman, serif" stroke="#fefefe" stroke-width="0.6" font-size="64">/(rad)</text>
<text transform="translate(65.2,849) rotate(-90)" font-family="Liberation Serif, Times New Roman, serif" stroke="#fefefe" stroke-width="0.6" font-size="64.5">Sliding ratio</text>
<text transform="translate(65.2,849) rotate(-90) translate(340,0) scale(1.27,1)" font-family="Liberation Serif, Times New Roman, serif" stroke="#fefefe" stroke-width="0.6" font-size="64" font-style="italic">δ</text>
<text x="594" y="874.0" font-family="Liberation Serif, Times New Roman, serif" stroke="#fefefe" stroke-width="0.6" font-size="58.5" font-style="italic">i</text>
<text x="608" y="889.7" font-family="Liberation Serif, Times New Roman, serif" stroke="#fefefe" stroke-width="0.6" font-size="39" font-style="italic" letter-spacing="2.5">pf</text>
<text x="640" y="874.0" font-family="Liberation Serif, Times New Roman, serif" stroke="#fefefe" stroke-width="0.6" font-size="58.5" letter-spacing="0.8">=2.0:</text>
<line x1="776" y1="854.4" x2="910.4" y2="854.4" stroke="#000000" stroke-opacity="0.33" stroke-width="8.4"/>
<line x1="776" y1="854.4" x2="910.4" y2="854.4" stroke="#000000" stroke-width="2.9"/>
<rect x="835.9" y="847.8" width="13.2" height="13.2" fill="#000000" stroke="#000000" stroke-width="1"/>
<text x="922" y="874.0" font-family="Liberation Serif, Times New Roman, serif" stroke="#fefefe" stroke-width="0.6" font-size="58.5">pinion,</text>
<line x1="1096.7" y1="854.4" x2="1231.6" y2="854.4" stroke="#000000" stroke-opacity="0.33" stroke-width="8.4" stroke-dasharray="23.5 18.75"/>
<line x1="1096.7" y1="854.4" x2="1231.6" y2="854.4" stroke="#000000" stroke-width="2.9" stroke-dasharray="23.5 18.75"/>
<rect x="1157.9" y="847.8" width="13.2" height="13.2" fill="#ffffff" stroke="#a8a8a8" stroke-width="1.5"/>
<text x="1245" y="874.0" font-family="Liberation Serif, Times New Roman, serif" stroke="#fefefe" stroke-width="0.6" font-size="58.5">face gear</text>
<text x="594" y="958.1" font-family="Liberation Serif, Times New Roman, serif" stroke="#fefefe" stroke-width="0.6" font-size="58.5" font-style="italic">i</text>
<text x="608" y="973.8" font-family="Liberation Serif, Times New Roman, serif" stroke="#fefefe" stroke-width="0.6" font-size="39" font-style="italic" letter-spacing="2.5">pf</text>
<text x="640" y="958.1" font-family="Liberation Serif, Times New Roman, serif" stroke="#fefefe" stroke-width="0.6" font-size="58.5" letter-spacing="0.8">=2.5:</text>
<line x1="776" y1="938.5" x2="910.4" y2="938.5" stroke="#ff0000" stroke-opacity="0.33" stroke-width="8.4"/>
<line x1="776" y1="938.5" x2="910.4" y2="938.5" stroke="#ff0000" stroke-width="2.9"/>
<circle cx="842.5" cy="938.5" r="7.5" fill="#ff0000" stroke="#ff0000" stroke-width="1"/>
<text x="922" y="958.1" font-family="Liberation Serif, Times New Roman, serif" stroke="#fefefe" stroke-width="0.6" font-size="58.5">pinion,</text>
<line x1="1096.7" y1="938.5" x2="1231.6" y2="938.5" stroke="#ff0000" stroke-opacity="0.33" stroke-width="8.4" stroke-dasharray="23.5 18.75"/>
<line x1="1096.7" y1="938.5" x2="1231.6" y2="938.5" stroke="#ff0000" stroke-width="2.9" stroke-dasharray="23.5 18.75"/>
<circle cx="1164.5" cy="938.5" r="7.5" fill="#ffffff" stroke="#ff7070" stroke-width="1.5"/>
<text x="1245" y="958.1" font-family="Liberation Serif, Times New Roman, serif" stroke="#fefefe" stroke-width="0.6" font-size="58.5">face gear</text>
<text x="594" y="1042.4" font-family="Liberation Serif, Times New Roman, serif" stroke="#fefefe" stroke-width="0.6" font-size="58.5" font-style="italic">i</text>
<text x="608" y="1058.1" font-family="Liberation Serif, Times New Roman, serif" stroke="#fefefe" stroke-width="0.6" font-size="39" font-style="italic" letter-spacing="2.5">pf</text>
<text x="640" y="1042.4" font-family="Liberation Serif, Times New Roman, serif" stroke="#fefefe" stroke-width="0.6" font-size="58.5" letter-spacing="0.8">=3.0:</text>
<line x1="776" y1="1022.8" x2="910.4" y2="1022.8" stroke="#0000ff" stroke-opacity="0.33" stroke-width="8.4"/>
<line x1="776" y1="1022.8" x2="910.4" y2="1022.8" stroke="#0000ff" stroke-width="2.9"/>
<polygon points="842.5,1013.8 851.0,1027.8 834.0,1027.8" fill="#0000ff" stroke="#0000ff" stroke-width="1"/>
<text x="922" y="1042.4" font-family="Liberation Serif, Times New Roman, serif" stroke="#fefefe" stroke-width="0.6" font-size="58.5">pinion,</text>
<line x1="1096.7" y1="1022.8" x2="1231.6" y2="1022.8" stroke="#0000ff" stroke-opacity="0.33" stroke-width="8.4" stroke-dasharray="23.5 18.75"/>
<line x1="1096.7" y1="1022.8" x2="1231.6" y2="1022.8" stroke="#0000ff" stroke-width="2.9" stroke-dasharray="23.5 18.75"/>
<polygon points="1164.5,1013.8 1173.0,1027.8 1156.0,1027.8" fill="#ffffff" stroke="#6a6aff" stroke-width="1.5"/>
<text x="1245" y="1042.4" font-family="Liberation Serif, Times New Roman, serif" stroke="#fefefe" stroke-width="0.6" font-size="58.5">face gear</text>
<text x="594" y="1126.8" font-family="Liberation Serif, Times New Roman, serif" stroke="#fefefe" stroke-width="0.6" font-size="58.5" font-style="italic">i</text>
<text x="608" y="1142.5" font-family="Liberation Serif, Times New Roman, serif" stroke="#fefefe" stroke-width="0.6" font-size="39" font-style="italic" letter-spacing="2.5">pf</text>
<text x="640" y="1126.8" font-family="Liberation Serif, Times New Roman, serif" stroke="#fefefe" stroke-width="0.6" font-size="58.5" letter-spacing="0.8">=3.5:</text>
<line x1="776" y1="1107.2" x2="910.4" y2="1107.2" stroke="#008000" stroke-opacity="0.33" stroke-width="8.4"/>
<line x1="776" y1="1107.2" x2="910.4" y2="1107.2" stroke="#008000" stroke-width="2.9"/>
<polygon points="842.5,1098.2 850.0,1107.2 842.5,1116.2 835.0,1107.2" fill="#008000" stroke="#008000" stroke-width="1"/>
<text x="922" y="1126.8" font-family="Liberation Serif, Times New Roman, serif" stroke="#fefefe" stroke-width="0.6" font-size="58.5">pinion,</text>
<line x1="1096.7" y1="1107.2" x2="1231.6" y2="1107.2" stroke="#008000" stroke-opacity="0.33" stroke-width="8.4" stroke-dasharray="23.5 18.75"/>
<line x1="1096.7" y1="1107.2" x2="1231.6" y2="1107.2" stroke="#008000" stroke-width="2.9" stroke-dasharray="23.5 18.75"/>
<polygon points="1164.5,1098.2 1172.0,1107.2 1164.5,1116.2 1157.0,1107.2" fill="#008000" stroke="#008000" stroke-width="1"/>
<text x="1245" y="1126.8" font-family="Liberation Serif, Times New Roman, serif" stroke="#fefefe" stroke-width="0.6" font-size="58.5">face gear</text>
<text x="594" y="1212.2" font-family="Liberation Serif, Times New Roman, serif" stroke="#fefefe" stroke-width="0.6" font-size="58.5" font-style="italic">i</text>
<text x="608" y="1227.9" font-family="Liberation Serif, Times New Roman, serif" stroke="#fefefe" stroke-width="0.6" font-size="39" font-style="italic" letter-spacing="2.5">pf</text>
<text x="640" y="1212.2" font-family="Liberation Serif, Times New Roman, serif" stroke="#fefefe" stroke-width="0.6" font-size="58.5" letter-spacing="0.8">=4.0:</text>
<line x1="776" y1="1192.6" x2="910.4" y2="1192.6" stroke="#9400ff" stroke-opacity="0.33" stroke-width="8.4"/>
<line x1="776" y1="1192.6" x2="910.4" y2="1192.6" stroke="#9400ff" stroke-width="2.9"/>
<polygon points="842.5,1184.0 844.9,1189.4 850.7,1189.9 846.3,1193.8 847.6,1199.6 842.5,1196.6 837.4,1199.6 838.7,1193.8 834.3,1189.9 840.1,1189.4" fill="#9400ff" stroke="#9400ff" stroke-width="1"/>
<text x="922" y="1212.2" font-family="Liberation Serif, Times New Roman, serif" stroke="#fefefe" stroke-width="0.6" font-size="58.5">pinion,</text>
<line x1="1096.7" y1="1192.6" x2="1231.6" y2="1192.6" stroke="#9400ff" stroke-opacity="0.33" stroke-width="8.4" stroke-dasharray="23.5 18.75"/>
<line x1="1096.7" y1="1192.6" x2="1231.6" y2="1192.6" stroke="#9400ff" stroke-width="2.9" stroke-dasharray="23.5 18.75"/>
<polygon points="1164.5,1184.0 1166.9,1189.4 1172.7,1189.9 1168.3,1193.8 1169.6,1199.6 1164.5,1196.6 1159.4,1199.6 1160.7,1193.8 1156.3,1189.9 1162.1,1189.4" fill="#ffffff" stroke="#b050ff" stroke-width="1.5"/>
<text x="1245" y="1212.2" font-family="Liberation Serif, Times New Roman, serif" stroke="#fefefe" stroke-width="0.6" font-size="58.5">face gear</text>
</g>
</svg>
</body></html>
